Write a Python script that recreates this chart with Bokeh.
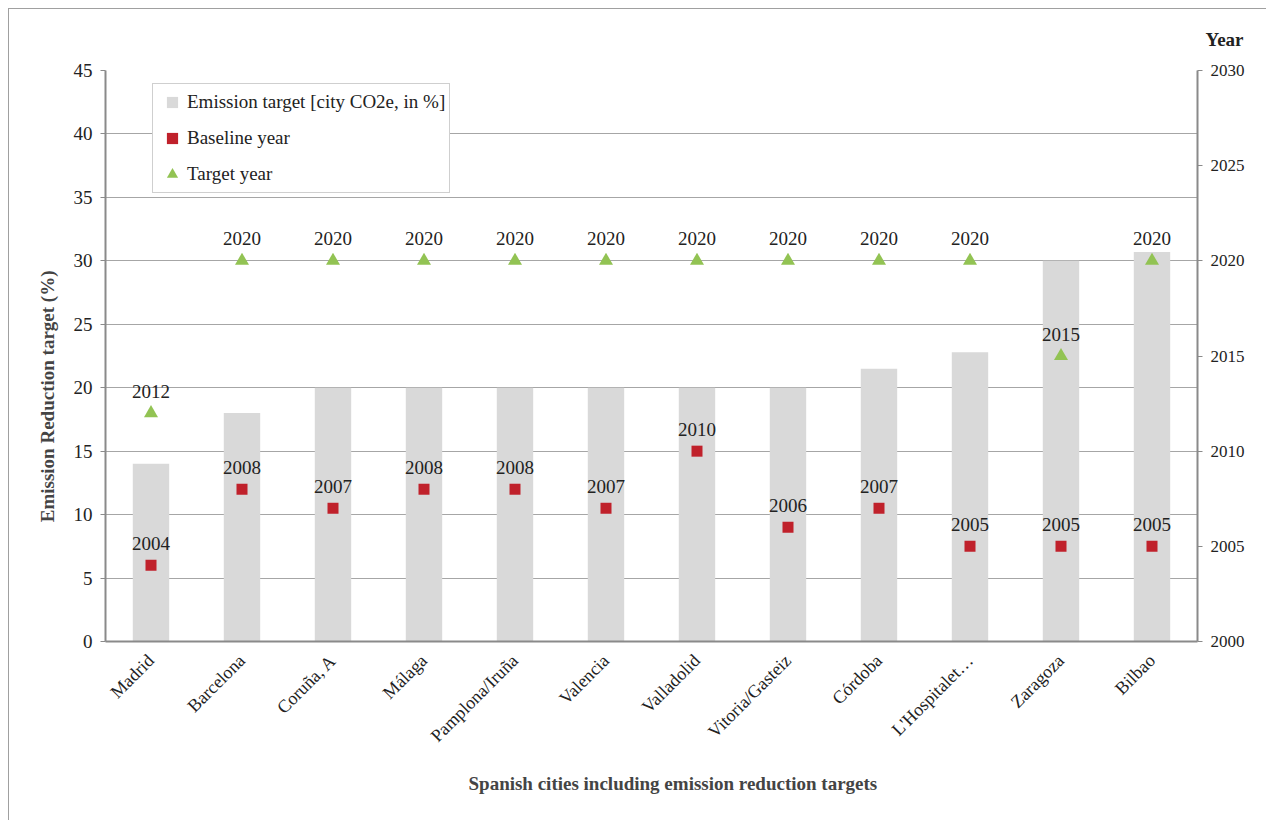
import math
from bokeh.plotting import figure
from bokeh.models import (Range1d, LinearAxis, FactorRange, Title, Legend, LegendItem,
                          FixedTicker, ColumnDataSource)
from bokeh.core.properties import value
from bokeh.embed import file_html
from bokeh.resources import INLINE

cities = ["Madrid", "Barcelona", "Coruña, A", "Málaga", "Pamplona/Iruña", "Valencia",
          "Valladolid", "Vitoria/Gasteiz", "Córdoba", "L'Hospitalet…", "Zaragoza", "Bilbao"]
emission_target = [14, 18, 20, 20, 20, 20, 20, 20, 21.5, 22.8, 30, 30.7]
baseline_year = [2004, 2008, 2007, 2008, 2008, 2007, 2010, 2006, 2007, 2005, 2005, 2005]
target_year = [2012, 2020, 2020, 2020, 2020, 2020, 2020, 2020, 2020, 2020, 2015, 2020]
left_ticks = [0, 5, 10, 15, 20, 25, 30, 35, 40, 45]
right_ticks = [2000, 2005, 2010, 2015, 2020, 2025, 2030]

FONT = "Liberation Serif"
GRID = "#a6a6a6"
AXIS = "#8a8a8a"
BAR = "#d9d9d9"
RED = "#c0212b"
GREEN = "#92c353"
NB = "\u00a0"

src = ColumnDataSource(dict(
    city=cities, target=emission_target,
    base=baseline_year, tyear=target_year,
    base_txt=[str(v) for v in baseline_year],
    tyear_txt=[str(v) for v in target_year],
))

p = figure(x_range=FactorRange(*cities, range_padding=0),
           y_range=Range1d(0, 45),
           frame_width=1092, frame_height=571,
           min_border_left=96, min_border_top=61, min_border_right=74, min_border_bottom=183,
           output_backend="svg", toolbar_location=None, tools="")
p.margin = (8, 0, 0, 8)
p.styles = {"border": "1px solid #a0a0a0"}
p.outline_line_color = None
p.background_fill_color = "white"

p.extra_y_ranges = {"year": Range1d(2000, 2030)}

bars = p.vbar(x="city", top="target", width=0.4, source=src,
              fill_color=BAR, line_color=None)
sq = p.scatter(x="city", y="base", source=src, y_range_name="year", marker="square",
               size=11, fill_color=RED, line_color=None)
tri = p.scatter(x="city", y="tyear", source=src, y_range_name="year", marker="triangle",
                size=14, fill_color=GREEN, line_color=None)
# zero-size markers on the bar data: only used to give the legend a small grey square key
bar_key = p.scatter(x="city", y="target", source=src, marker="square", size=0,
                    fill_color=BAR, line_color=None)

for col, ycol in (("base_txt", "base"), ("tyear_txt", "tyear")):
    p.text(x="city", y=ycol, text=col, source=src, y_range_name="year",
           text_font=value(FONT), text_font_size="19px", text_color="#222222",
           text_align="center", text_baseline="middle", y_offset=-22)

# axes
p.yaxis.ticker = FixedTicker(ticks=left_ticks)
p.yaxis.axis_label = "Emission Reduction target (%)" + NB * 17
p.yaxis.axis_label_text_font = FONT
p.yaxis.axis_label_text_font_style = "bold"
p.yaxis.axis_label_text_font_size = "19px"
p.yaxis.axis_label_standoff = 13
p.yaxis.major_label_text_font = FONT
p.yaxis.major_label_text_font_size = "19px"
p.yaxis.major_label_text_color = "#222222"
p.yaxis.major_label_standoff = 8
p.yaxis.axis_line_color = AXIS
p.yaxis.axis_line_width = 2
p.yaxis.major_tick_line_color = AXIS
p.yaxis.major_tick_in = 0
p.yaxis.major_tick_out = 5
p.yaxis.minor_tick_line_color = None

ry = LinearAxis(y_range_name="year", ticker=FixedTicker(ticks=right_ticks))
ry.major_label_text_font = FONT
ry.major_label_text_font_size = "17px"
ry.major_label_text_color = "#222222"
ry.major_label_standoff = 8
ry.axis_line_color = AXIS
ry.axis_line_width = 2
ry.major_tick_line_color = AXIS
ry.major_tick_in = 0
ry.major_tick_out = 5
ry.minor_tick_line_color = None
p.add_layout(ry, "right")

p.xaxis.axis_label = NB * 9 + "Spanish cities including emission reduction targets"
p.xaxis.axis_label_text_font = FONT
p.xaxis.axis_label_text_font_style = "bold"
p.xaxis.axis_label_text_font_size = "19px"
p.xaxis.axis_label_standoff = 17
p.xaxis.major_label_orientation = math.pi / 4
p.xaxis.major_label_text_font = FONT
p.xaxis.major_label_text_font_size = "18px"
p.xaxis.major_label_text_color = "#222222"
p.xaxis.major_label_standoff = 10
p.xaxis.axis_line_color = AXIS
p.xaxis.axis_line_width = 2
p.xaxis.major_tick_line_color = None

p.xgrid.grid_line_color = None
p.ygrid.grid_line_color = GRID
p.ygrid.grid_line_width = 1

p.add_layout(Title(text="Year", align="right", offset=-46, standoff=38,
                   vertical_align="top",
                   text_font=FONT, text_font_style="bold", text_font_size="19px",
                   text_color="#222222"), "above")

legend = Legend(items=[
    LegendItem(label="Emission target [city CO2e, in %]", renderers=[bar_key]),
    LegendItem(label="Baseline year", renderers=[sq]),
    LegendItem(label="Target year", renderers=[tri]),
], location=(47, 448))
legend.label_text_font = FONT
legend.label_text_font_size = "19px"
legend.label_text_color = "#222222"
legend.glyph_width = 30
legend.glyph_height = 28
legend.label_height = 28
legend.label_standoff = 0
legend.spacing = 8
legend.padding = 4
legend.margin = 0
legend.border_line_color = "#a0a0a0"
legend.border_line_width = 1
legend.background_fill_color = "white"
legend.background_fill_alpha = 1
p.add_layout(legend, "center")

open("out.html", "w").write(file_html(p, INLINE))
